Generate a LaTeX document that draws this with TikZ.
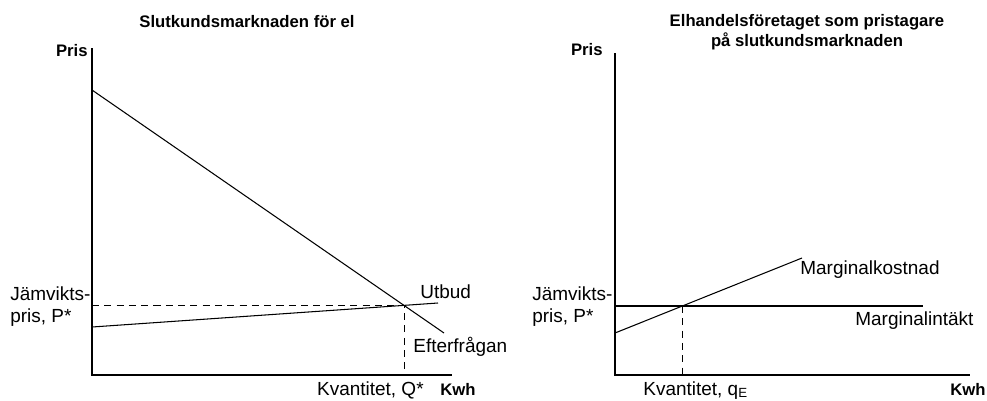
\documentclass[tikz,border=0pt]{standalone}
\usepackage{fontspec}
\setmainfont{Liberation Sans}

\begin{document}
\begin{tikzpicture}[x=0.02cm,y=-0.02cm,
  axis/.style={line width=0.9pt},
  curve/.style={line width=0.6pt},
  guide/.style={line width=0.5pt,dash pattern=on 4pt off 3pt},
  lbl/.style={font=\fontsize{10.8}{12.5}\selectfont,inner sep=0pt,align=left},
  axlbl/.style={font=\bfseries\fontsize{9.5}{12}\selectfont,inner sep=0pt},
  ttl/.style={font=\bfseries\fontsize{9.5}{11.5}\selectfont,inner sep=0pt,align=center}]
  \useasboundingbox (0,0) rectangle (987,400);

  % vanster: slutkundsmarknaden
  \coordinate (top1) at (92,48);
  \coordinate (o1) at (92,375);
  \coordinate (end1) at (452,375);
  \draw[axis] (top1) -- (o1) -- (end1);
  \coordinate (dem0) at (92,90);
  \coordinate (dem1) at (444,333);
  \coordinate (sup0) at (92,327);
  \coordinate (sup1) at (438,303);
  \draw[curve] (dem0) -- (dem1);
  \draw[curve] (sup0) -- (sup1);
  \coordinate (eq1) at (intersection of dem0--dem1 and sup0--sup1);
  \draw[guide] (o1 |- eq1) -- (eq1) -- (eq1 |- o1);

  \node[ttl] (title1) at (247,22) {Slutkundsmarknaden för el};
  \node[axlbl,anchor=east] (pris1) at (88,51) {Pris};
  \node[lbl,anchor=west] (jv1) at (10,307) {Jämvikts-\\pris, P*};
  \node[lbl,anchor=west] (utbud) at (420,292) {Utbud};
  \node[lbl,anchor=west] (efter) at (413,347) {Efterfrågan};
  \node[lbl,anchor=base east] (kvq1) at (424,395) {Kvantitet, Q*};
  \node[axlbl,anchor=base west] (kwh1) at (440,395) {Kwh};

  % hoger: elhandelsforetaget
  \coordinate (top2) at (615,53);
  \coordinate (o2) at (615,375);
  \coordinate (end2) at (970,375);
  \draw[axis] (top2) -- (o2) -- (end2);
  \coordinate (mi0) at (615,306);
  \coordinate (mi1) at (923,306);
  \coordinate (mk0) at (615,333);
  \coordinate (mk1) at (802,258);
  \draw[curve] (mi0) -- (mi1);
  \draw[curve] (mk0) -- (mk1);
  \coordinate (eq2) at (intersection of mi0--mi1 and mk0--mk1);
  \draw[guide] (eq2) -- (eq2 |- o2);

  \node[ttl] (title2) at (807,32) {Elhandelsföretaget som pristagare\\på slutkundsmarknaden};
  \node[axlbl,anchor=east] (pris2) at (603,50) {Pris};
  \node[lbl,anchor=west] (jv2) at (532,307) {Jämvikts-\\pris, P*};
  \node[lbl,anchor=west] (mk) at (800,270) {Marginalkostnad};
  \node[lbl,anchor=west] (mi) at (855,321) {Marginalintäkt};
  \node[lbl,anchor=base west] (kvq2) at (643,395) {Kvantitet, q\textsubscript{E}};
  \node[axlbl,anchor=base west] (kwh2) at (950,395) {Kwh};
\end{tikzpicture}
\end{document}
